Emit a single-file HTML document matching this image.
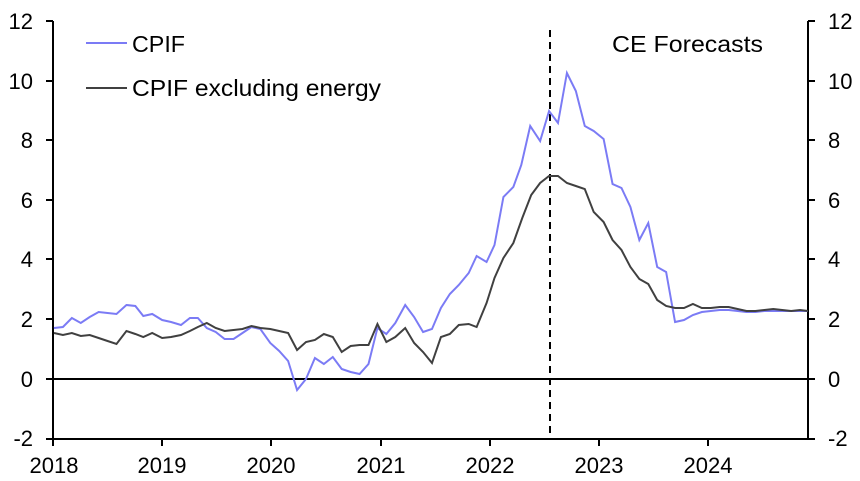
<!DOCTYPE html>
<html><head><meta charset="utf-8"><style>
html,body{margin:0;padding:0;background:#fff;}
svg{display:block;font-family:"Liberation Sans",Arial,sans-serif;}
</style></head><body>
<svg width="860" height="481" viewBox="0 0 860 481">
<g stroke="#000" stroke-width="2">
<line x1="53" y1="21" x2="53" y2="439"/>
<line x1="808" y1="21" x2="808" y2="439"/>
<line x1="53" y1="379" x2="808" y2="379"/>
<line x1="46" y1="439" x2="815" y2="439"/>
<line x1="46" y1="21" x2="53" y2="21"/><line x1="46" y1="81" x2="53" y2="81"/><line x1="46" y1="140" x2="53" y2="140"/><line x1="46" y1="200" x2="53" y2="200"/><line x1="46" y1="259" x2="53" y2="259"/><line x1="46" y1="319" x2="53" y2="319"/><line x1="46" y1="379" x2="53" y2="379"/>
<line x1="808" y1="21" x2="815" y2="21"/><line x1="808" y1="81" x2="815" y2="81"/><line x1="808" y1="140" x2="815" y2="140"/><line x1="808" y1="200" x2="815" y2="200"/><line x1="808" y1="259" x2="815" y2="259"/><line x1="808" y1="319" x2="815" y2="319"/><line x1="808" y1="379" x2="815" y2="379"/>
<line x1="53" y1="439" x2="53" y2="446"/><line x1="162" y1="439" x2="162" y2="446"/><line x1="271" y1="439" x2="271" y2="446"/><line x1="381" y1="439" x2="381" y2="446"/><line x1="490" y1="439" x2="490" y2="446"/><line x1="599" y1="439" x2="599" y2="446"/><line x1="708" y1="439" x2="708" y2="446"/>
</g>
<line x1="550" y1="30" x2="550" y2="439" stroke="#000" stroke-width="2" stroke-dasharray="7,5"/>
<g transform="matrix(0.99212 0 0 1 0.418 0)">
<polyline fill="none" stroke="#7b7bf5" stroke-width="2" points="54,328 63,327 72,318 81,323 90,317 99,312 108,313 117,314 127,305 136,306 144,316 153,314 163,320 172,322 182,325 191,318 199,318 208,328 217,332 226,339 235,339 244,333 253,327 262,329 272,343 281,351 290,361 299,390 308,379 317,358 326,364 335,357 344,369 353,372 362,374 371,364 380,328 389,334 398,323 408,305 417,317 426,332 435,329 444,308 453,294 462,285 472,273 480,256 490,262 498,245 507,197 517,187 525,165 534,126 544,141 553,111 562,123 571,73 580,91 589,126 598,131 608,139 617,184 626,188 635,207 644,240 653,223 662,267 671,272 680,322 689,320 698,315 707,312 716,311 725,310 734,310 743,311 752,312 761,312 770,311 779,311 788,311 797,311 806,311 814,311"/>
<polyline fill="none" stroke="#404040" stroke-width="2" points="54,333 63,335 72,333 81,336 90,335 99,338 108,341 117,344 127,331 136,334 144,337 153,333 163,338 172,337 182,335 191,331 199,327 208,323 217,328 226,331 235,330 244,329 253,326 262,328 272,329 281,331 290,333 299,350 308,342 317,340 326,334 335,337 344,352 353,346 362,345 371,345 380,324 389,342 398,337 408,328 417,343 426,352 435,363 444,337 453,334 462,325 472,324 480,327 490,303 498,278 507,258 517,243 526,218 535,195 544,183 553,176 562,176 571,183 580,186 589,189 598,212 608,222 617,240 626,250 635,267 644,279 653,284 662,300 671,306 680,308 689,308 698,304 707,308 716,308 725,307 734,307 743,309 752,311 761,311 770,310 779,309 788,310 797,311 806,310 814,311"/>
</g>
<line x1="86" y1="43" x2="127" y2="43" stroke="#7b7bf5" stroke-width="2"/>
<line x1="86" y1="88" x2="127" y2="88" stroke="#404040" stroke-width="2"/>
<g font-size="23" fill="#000">
<text x="132" y="52" textLength="53" lengthAdjust="spacingAndGlyphs">CPIF</text>
<text x="132" y="96" textLength="249" lengthAdjust="spacingAndGlyphs">CPIF excluding energy</text>
<text x="612" y="52" textLength="151" lengthAdjust="spacingAndGlyphs">CE Forecasts</text>
</g>
<g font-size="22" fill="#000" text-anchor="end">
<text x="33" y="29">12</text><text x="33" y="89">10</text><text x="33" y="148">8</text><text x="33" y="208">6</text><text x="33" y="267">4</text><text x="33" y="327">2</text><text x="33" y="387">0</text><text x="33" y="446">-2</text>
</g>
<g font-size="22" fill="#000" text-anchor="start">
<text x="828" y="29">12</text><text x="828" y="89">10</text><text x="828" y="148">8</text><text x="828" y="208">6</text><text x="828" y="267">4</text><text x="828" y="327">2</text><text x="828" y="387">0</text><text x="828" y="446">-2</text>
</g>
<g font-size="22" fill="#000" text-anchor="middle">
<text x="54" y="473">2018</text><text x="162" y="473">2019</text><text x="271" y="473">2020</text><text x="381" y="473">2021</text><text x="490" y="473">2022</text><text x="599" y="473">2023</text><text x="708" y="473">2024</text>
</g>
</svg>
</body></html>
